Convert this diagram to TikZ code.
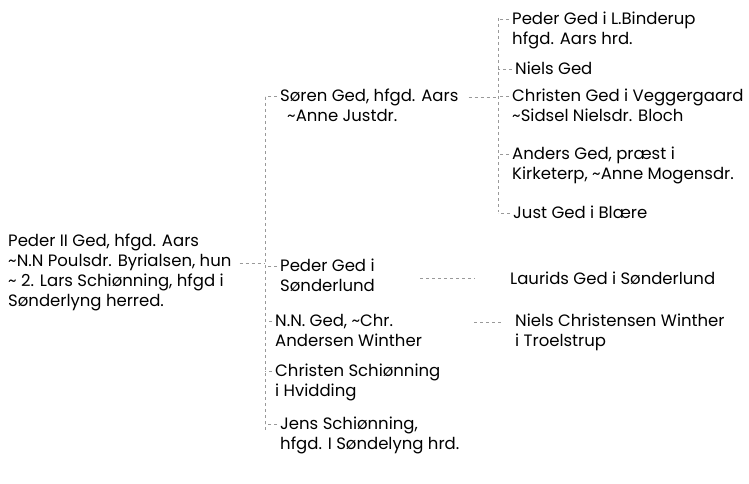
\documentclass[tikz,border=0pt]{standalone}
\usepackage{fontspec}
\setmainfont{Poppins}
\usepackage{tikz}
\usetikzlibrary{calc}
\tikzstyle{connector} = [line width=0.4pt, gray!80, dash pattern=on 3pt off 3pt]
\tikzstyle{person} = [align=left, anchor=north west, inner sep=0pt, font=\fontsize{16.5}{20}\selectfont]

\begin{document}
\begin{tikzpicture}[x=1pt, y=-1pt]
                \useasboundingbox (0,0) rectangle (749,484);

                \node (peder2) [person] at (8,234) {Peder II Ged, hfgd. Aars\\\textasciitilde N.N Poulsdr. Byrialsen, hun\\\textasciitilde{} 2. Lars Schiønning, hfgd i\\Sønderlyng herred.};

                \node (soeren) [person] at (280,89) {Søren Ged, hfgd. Aars\\\hspace{7pt}\textasciitilde Anne Justdr.};
                \node (pedersl) [person] at (280,259) {Peder Ged i\\Sønderlund};
                \node (nnged) [person] at (275,314) {N.N. Ged, \textasciitilde Chr.\\Andersen Winther};
                \node (christensch) [person] at (275,364) {Christen Schiønning\\i Hvidding};
                \node (jens) [person] at (280,417) {Jens Schiønning,\\hfgd. I Søndelyng hrd.};

                \node (pederlb) [person] at (512,12) {Peder Ged i L.Binderup\\hfgd. Aars hrd.};
                \node (niels) [person] at (515,62) {Niels Ged};
                \node (christenv) [person] at (512,89) {Christen Ged i Veggergaard\\\textasciitilde Sidsel Nielsdr. Bloch};
                \node (anders) [person] at (512,147) {Anders Ged, præst i\\Kirketerp, \textasciitilde Anne Mogensdr.};
                \node (just) [person] at (513,206) {Just Ged i Blære};

                \node (laurids) [person] at (510,272) {Laurids Ged i Sønderlund};
                \node (nielscw) [person] at (515,314) {Niels Christensen Winther\\i Troelstrup};

                \coordinate (spine1top) at (265,97);
                \coordinate (spine1bot) at (265,430);
                \coordinate (spine2top) at (498,18);
                \coordinate (spine2bot) at (498,212);
                \coordinate (j1) at (265,263);

                \draw [connector] (spine1top) -- (spine1bot);
                \draw [connector] (spine2top) -- (spine2bot);
                \draw [connector, shorten <=8pt] (peder2.east |- j1) -- (j1);
                \foreach \n in {soeren,pedersl,nnged,christensch,jens}
                    \draw [connector, shorten <=3pt] ([yshift=-7pt]\n.north west) -- ($(spine1top |- \n.north west)+(0,7)$);
                \foreach \n in {pederlb,niels,christenv,anders,just}
                    \draw [connector, shorten <=3pt] ([yshift=-7pt]\n.north west) -- ($(spine2top |- \n.north west)+(0,7)$);
                \draw [connector, shorten <=10pt] ([yshift=-8pt]soeren.north east) -- ($(spine2top |- soeren.north east)+(0,8)$);
                \draw [connector, shorten <=45pt, shorten >=35pt] (pedersl.east |- laurids.west) -- (laurids.west);
                \draw [connector, shorten <=52pt, shorten >=13pt] ([yshift=-8pt]nnged.north east) -- ([yshift=-8pt]nielscw.north west);
            \end{tikzpicture}
\end{document}
